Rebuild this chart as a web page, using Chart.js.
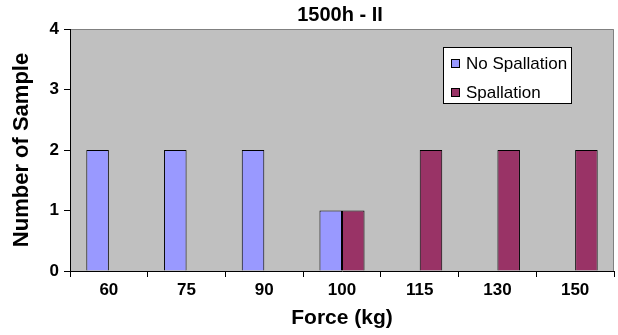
<!DOCTYPE html>
<html>
<head>
<meta charset="utf-8">
<script src="https://cdn.jsdelivr.net/npm/chart.js@4.4.1/dist/chart.umd.min.js"></script>
<style>
  html, body { margin: 0; padding: 0; background: #fff; }
  #wrap { width: 618px; height: 335px; }
</style>
</head>
<body>
<div id="wrap"><canvas id="forceChart" width="618" height="335"></canvas></div>
<script>
// 圖表資料
const categories = ['60', '75', '90', '100', '115', '130', '150'];
const noSpallation = [2, 2, 2, 1, 0, 0, 0];
const spallation = [0, 0, 0, 1, 2, 2, 2];
const seriesNames = ['No Spallation', 'Spallation'];
const chartTitle = '1500h - II';
const xTitle = 'Force (kg)';
const yTitle = 'Number of Sample';

const FONT = "'Liberation Sans', Arial, sans-serif";

// 灰色繪圖區背景 + 上/右邊框
const plotBg = {
    id: 'plotBg',
    beforeDraw(chart) {
        const { ctx, chartArea: a } = chart;
        ctx.save();
        ctx.fillStyle = '#C0C0C0';
        ctx.fillRect(a.left, a.top, a.right - a.left, a.bottom - a.top);
        ctx.strokeStyle = '#808080';
        ctx.lineWidth = 1;
        ctx.beginPath();
        ctx.moveTo(a.left, a.top + 0.5);
        ctx.lineTo(a.right - 0.5, a.top + 0.5);
        ctx.lineTo(a.right - 0.5, a.bottom);
        ctx.stroke();
        ctx.restore();
    }
};

// 標題與圖例 (圖例放在繪圖區內)
const titleAndLegend = {
    id: 'titleAndLegend',
    afterDraw(chart) {
        const { ctx } = chart;
        ctx.save();
        ctx.fillStyle = '#000';
        ctx.font = 'bold 20px ' + FONT;
        ctx.textAlign = 'center';
        ctx.textBaseline = 'middle';
        ctx.fillText(chartTitle, 340, 15);

        // 圖例框
        const bx = 443.5, by = 47.5, bw = 128, bh = 56;
        ctx.fillStyle = '#fff';
        ctx.fillRect(bx, by, bw, bh);
        ctx.strokeStyle = '#000';
        ctx.lineWidth = 1;
        ctx.strokeRect(bx, by, bw, bh);

        ctx.font = '17px ' + FONT;
        ctx.textAlign = 'left';
        ctx.textBaseline = 'middle';
        chart.data.datasets.forEach((ds, i) => {
            const cy = 64 + i * 29;
            ctx.fillStyle = ds.backgroundColor;
            ctx.fillRect(451.5, cy - 4.5, 8, 8);
            ctx.strokeStyle = '#000';
            ctx.strokeRect(451.5, cy - 4.5, 8, 8);
            ctx.fillStyle = '#000';
            ctx.fillText(ds.label, 466, cy);
        });
        ctx.restore();
    }
};

const ctx = document.getElementById('forceChart').getContext('2d');
new Chart(ctx, {
    type: 'bar',
    data: {
        labels: categories,
        datasets: [{
            label: seriesNames[0],
            data: noSpallation,
            backgroundColor: '#9999FF',
            borderColor: '#000',
            borderWidth: 1,
            categoryPercentage: 0.58,
            barPercentage: 1.0
        }, {
            label: seriesNames[1],
            data: spallation,
            backgroundColor: '#993366',
            borderColor: '#000',
            borderWidth: 1,
            categoryPercentage: 0.58,
            barPercentage: 1.0
        }]
    },
    options: {
        responsive: false,
        animation: false,
        layout: { padding: { top: 29, right: 4, left: 0, bottom: 0 } },
        plugins: {
            legend: { display: false },
            title: { display: false },
            tooltip: { enabled: false }
        },
        scales: {
            x: {
                grid: {
                    offset: true,
                    drawOnChartArea: false,
                    color: '#000',
                    tickLength: 6
                },
                border: { color: '#000', width: 1 },
                ticks: {
                    color: '#000',
                    padding: 3,
                    font: { family: FONT, size: 17, weight: 'bold' }
                },
                title: {
                    display: true,
                    text: xTitle,
                    color: '#000',
                    padding: { top: 0, bottom: 4 },
                    font: { family: FONT, size: 21, weight: 'bold' }
                },
                afterFit(scale) { scale.height = 64; }
            },
            y: {
                min: 0,
                max: 4,
                ticks: {
                    stepSize: 1,
                    color: '#000',
                    padding: 5,
                    font: { family: FONT, size: 17, weight: 'bold' }
                },
                grid: {
                    drawOnChartArea: false,
                    color: '#000',
                    tickLength: 6
                },
                border: { color: '#000', width: 1 },
                title: {
                    display: true,
                    text: yTitle,
                    color: '#000',
                    padding: { top: 9, bottom: 0 },
                    font: { family: FONT, size: 22, weight: 'bold' }
                },
                afterFit(scale) { scale.width = 70; }
            }
        }
    },
    plugins: [plotBg, titleAndLegend]
});
</script>
</body>
</html>
